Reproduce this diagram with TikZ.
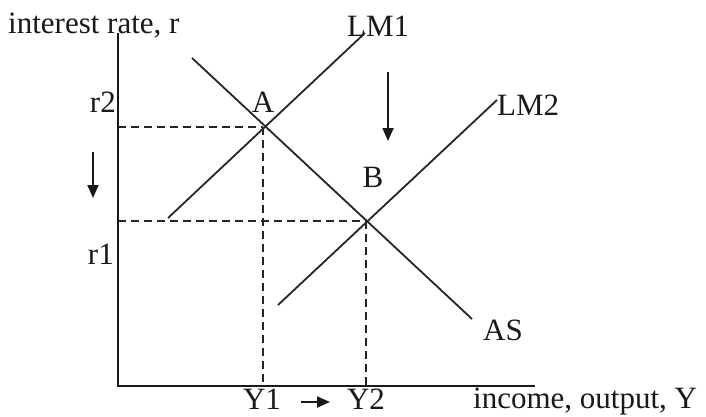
\documentclass[tikz,border=0pt]{standalone}
\usepackage{fontspec}
\setmainfont{Liberation Serif}
\usetikzlibrary{arrows.meta}
\begin{document}
\begin{tikzpicture}[x=1pt,y=-1pt,
  axisline/.style={line width=2.6pt,black!90},
  curve/.style={line width=1.8pt,black!85},
  guide/.style={line width=1.8pt,black!85,dash pattern=on 8pt off 5pt},
  shiftarrow/.style={line width=1.8pt,black!90,-{Triangle[length=13pt,width=11pt]}},
  lbl/.style={inner sep=0pt,font=\fontsize{31}{36}\selectfont,text=black!90}]
\useasboundingbox (0,0) rectangle (706,417);
\fill[white] (0,0) rectangle (706,417);
% key points
\coordinate (O) at (118,386);
\coordinate (Ytop) at (118,33);
\coordinate (Xend) at (535,386);
\coordinate (A) at (263,127);
\coordinate (B) at (366,221);
\coordinate (ASa) at (192,58);
\coordinate (ASb) at (472,319);
\coordinate (LMonea) at (168,218);
\coordinate (LMoneb) at (365,33);
\coordinate (LMtwoa) at (278,305);
\coordinate (LMtwob) at (497,100);
% guides
\draw[guide] (O |- A) -- (A);
\draw[guide] (A) -- (A |- O);
\draw[guide] (O |- B) -- (B);
\draw[guide] (B) -- (B |- O);
% curves
\draw[curve] (ASa) -- (ASb);
\draw[curve] (LMonea) -- (LMoneb);
\draw[curve] (LMtwoa) -- (LMtwob);
% axes
\draw[axisline] (Ytop) -- (O) -- (Xend);
% labels
\node[lbl,anchor=base west] (ylab) at (8,34) {interest rate, r};
\node[lbl,anchor=base west] (xlab) at (473,408) {income, output, Y};
\node[lbl,anchor=base east] (rtwo) at (116,113) {r2};
\node[lbl,anchor=base east] (rone) at (114,264) {r1};
\node[lbl,anchor=base] (Alab) at (263,113) {A};
\node[lbl,anchor=base] (Blab) at (373,187) {B};
\node[lbl,anchor=base west] (LMonelab) at (347,37) {LM1};
\node[lbl,anchor=base west] (LMtwolab) at (497,115) {LM2};
\node[lbl,anchor=base west] (ASlab) at (483,340) {AS};
\node[lbl,anchor=base] (Yone) at (262,409) {Y1};
\node[lbl,anchor=base] (Ytwo) at (366,409) {Y2};
% shift arrows
\coordinate (d1s) at (388,72);
\coordinate (d1e) at (388,141);
\coordinate (d2s) at (93,152);
\coordinate (d2e) at (93,198);
\coordinate (rs) at (301,402);
\coordinate (re) at (330,402);
\draw[shiftarrow] (d1s) -- (d1e);
\draw[shiftarrow] (d2s) -- (d2e);
\draw[shiftarrow] (rs) -- (re);
\end{tikzpicture}
\end{document}
